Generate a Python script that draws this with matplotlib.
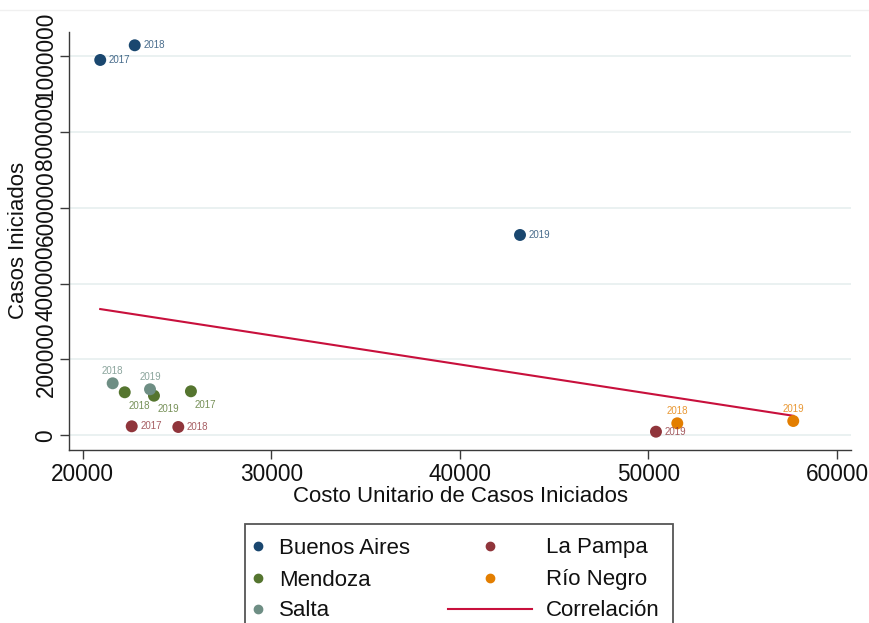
import numpy as np
import matplotlib
matplotlib.use("Agg")
import matplotlib.pyplot as plt
from matplotlib.lines import Line2D
from matplotlib.patches import Rectangle

plt.rcParams['font.family'] = ['Liberation Sans', 'DejaVu Sans']

# ---- data: unit cost vs. cases started, by province and year ----
ba_years = ["2017", "2018", "2019"]
ba_costo = [20930, 22760, 43190]
ba_casos = [989500, 1028200, 528100]

mendoza_years = ["2017", "2018", "2019"]
mendoza_costo = [25740, 22230, 23780]
mendoza_casos = [116000, 113400, 104400]

salta_years = ["2018", "2019"]
salta_costo = [21590, 23570]
salta_casos = [137100, 121300]

lapampa_years = ["2017", "2018", "2019"]
lapampa_costo = [22600, 25070, 50400]
lapampa_casos = [23700, 21900, 9500]

rionegro_years = ["2018", "2019"]
rionegro_costo = [51530, 57680]
rionegro_casos = [31600, 37700]

x_ticks = [20000, 30000, 40000, 50000, 60000]
y_ticks = [0, 200000, 400000, 600000, 800000, 1000000]

W, H = 869, 623
fig = plt.figure(figsize=(W / 100, H / 100), dpi=100)
fig.patch.set_facecolor("white")


def fx(px):
    return px / W


def fy(py):
    return 1 - py / H


ax_left, ax_right, ax_top, ax_bottom = 69.3, 851, 31.7, 450
ax = fig.add_axes([fx(ax_left), fy(ax_bottom), (ax_right - ax_left) / W,
                   (ax_bottom - ax_top) / H])
ax.set_xlim(19290, 60742)
ax.set_ylim(-38760, 1064000)

series = [
    ("Buenos Aires", ba_costo, ba_casos, ba_years, "#1a476f", "right"),
    ("Mendoza", mendoza_costo, mendoza_casos, mendoza_years, "#55752f", "below_right"),
    ("Salta", salta_costo, salta_casos, salta_years, "#6e8e84", "above"),
    ("La Pampa", lapampa_costo, lapampa_casos, lapampa_years, "#90353b", "right"),
    ("Río Negro", rionegro_costo, rionegro_casos, rionegro_years, "#e37e00", "above"),
]
line_color = "#c8103c"

# label placement (offset in points, alignment)
label_pos = {
    "right": ((6.3, 0.0), "left"),
    "above": ((0.0, 8.8), "center"),
    "below_right": ((10.5, -9.8), "center"),
}

for name, xs, ys, yrs, col, pos in series:
    ax.scatter(xs, ys, s=74, color=col, edgecolors="none", zorder=3)
    (dx, dy), ha = label_pos[pos]
    for x, y, t in zip(xs, ys, yrs):
        ax.annotate(t, (x, y), xytext=(dx, dy), textcoords="offset points",
                    ha=ha, va="center", fontsize=7, color=col, alpha=0.8,
                    zorder=4)

# least-squares fit across all observations
all_x = np.concatenate([np.asarray(s[1], float) for s in series])
all_y = np.concatenate([np.asarray(s[2], float) for s in series])
slope, intercept = np.polyfit(all_x, all_y, 1)
fit_x = np.array([all_x.min(), all_x.max()])
ax.plot(fit_x, slope * fit_x + intercept, color=line_color, lw=1.5, zorder=2)

# axes styling
for side in ("top", "right"):
    ax.spines[side].set_visible(False)
for side in ("left", "bottom"):
    ax.spines[side].set_color("#3a3a3a")
    ax.spines[side].set_linewidth(1.0)

ax.set_xticks(x_ticks)
ax.set_xticklabels([str(v) for v in x_ticks])
ax.set_yticks(y_ticks)
ax.set_yticklabels([str(v) for v in y_ticks], rotation=90, va="center")
ax.tick_params(axis="both", direction="out", length=6.5, width=1.0,
               color="#3a3a3a", labelsize=16.3, labelcolor="#111111")
ax.tick_params(axis="x", pad=3)
ax.tick_params(axis="y", pad=2)

ax.yaxis.grid(True, color="#e4eded", lw=1.1)
ax.xaxis.grid(False)
ax.set_axisbelow(True)

ax.set_xlabel("Costo Unitario de Casos Iniciados", fontsize=16, color="#111111")
ax.set_ylabel("Casos Iniciados", fontsize=16, color="#111111")
ax.xaxis.set_label_coords(0.5, (ax_bottom - 497) / (ax_bottom - ax_top), transform=ax.transAxes)
ax.xaxis.label.set_va("center")
ax.yaxis.set_label_coords((18.5 - ax_left) / (ax_right - ax_left), 0.5, transform=ax.transAxes)
ax.yaxis.label.set_va("center")

# faint border line at the top of the graph region
fig.add_artist(Line2D([0, 1], [fy(10), fy(10)], transform=fig.transFigure,
                      color="#f0f0f0", lw=1))

# ---- legend box ----
fig.add_artist(Rectangle((fx(245), fy(645)), fx(673) - fx(245), fy(524) - fy(645),
                         transform=fig.transFigure, facecolor="white",
                         edgecolor="#555555", lw=1.3))
rows_y = [546, 578, 609]
legend_items = [(s[0], s[4]) for s in series]
col1 = legend_items[:3]
col2 = legend_items[3:]
text_shift = 2
for (name, col), ry in zip(col1, rows_y):
    fig.add_artist(Line2D([fx(258)], [fy(ry)], transform=fig.transFigure,
                          marker="o", markersize=6, color=col, ls="none"))
    fig.text(fx(279), fy(ry + text_shift), name, fontsize=16, va="center",
             ha="left", color="#111111")
for (name, col), ry in zip(col2, rows_y[:2]):
    fig.add_artist(Line2D([fx(490.5)], [fy(ry)], transform=fig.transFigure,
                          marker="o", markersize=6, color=col, ls="none"))
    fig.text(fx(546), fy(ry + text_shift), name, fontsize=16, va="center",
             ha="left", color="#111111")
fig.add_artist(Line2D([fx(448), fx(532)], [fy(rows_y[2]), fy(rows_y[2])],
                      transform=fig.transFigure, color=line_color, lw=1.5))
fig.text(fx(546), fy(rows_y[2] + text_shift), "Correlación", fontsize=16,
         va="center", ha="left", color="#111111")

fig.savefig("out.png", dpi=100)
